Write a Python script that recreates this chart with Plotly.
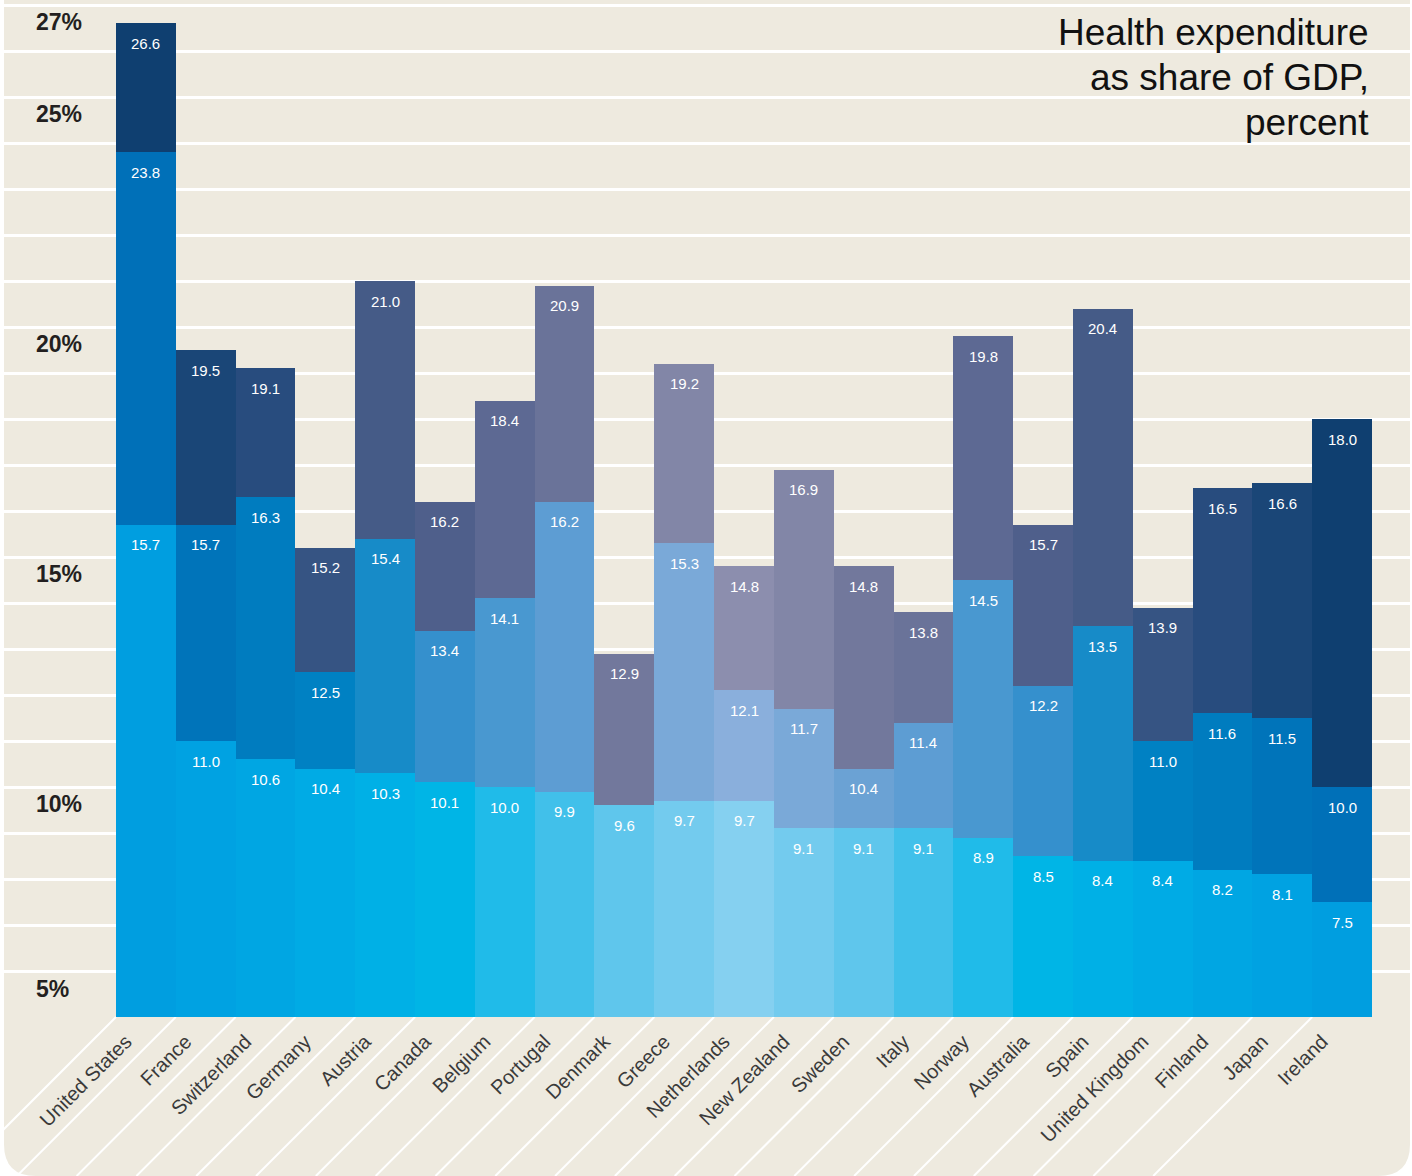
import plotly.graph_objects as go

# ---------------- data ----------------
countries = ["United States", "France", "Switzerland", "Germany", "Austria", "Canada",
             "Belgium", "Portugal", "Denmark", "Greece", "Netherlands", "New Zealand",
             "Sweden", "Italy", "Norway", "Australia", "Spain", "United Kingdom",
             "Finland", "Japan", "Ireland"]
low_values = [15.7, 11.0, 10.6, 10.4, 10.3, 10.1, 10.0, 9.9, 9.6, 9.7, 9.7,
              9.1, 9.1, 9.1, 8.9, 8.5, 8.4, 8.4, 8.2, 8.1, 7.5]
mid_values = [23.8, 15.7, 16.3, 12.5, 15.4, 13.4, 14.1, 16.2, None, 15.3, 12.1,
              11.7, 10.4, 11.4, 14.5, 12.2, 13.5, 11.0, 11.6, 11.5, 10.0]
high_values = [26.6, 19.5, 19.1, 15.2, 21.0, 16.2, 18.4, 20.9, 12.9, 19.2, 14.8,
               16.9, 14.8, 13.8, 19.8, 15.7, 20.4, 13.9, 16.5, 16.6, 18.0]
y_tick_values = [27, 25, 20, 15, 10, 5]
y_tick_labels = ["27%", "25%", "20%", "15%", "10%", "5%"]
title_lines = ["Health expenditure", "as share of GDP,", "percent"]

# ---------------- style ----------------
FONT = "Liberation Sans, Arial, Helvetica, sans-serif"
BEIGE = "#EEEADF"
# palettes indexed by distance from the centre bar (Netherlands)
low_pal = ["#85D0F0", "#73CBEE", "#5FC6EC", "#41C0EA", "#20BBE9", "#00B5E6",
           "#00B0E6", "#00ABE5", "#00A6E3", "#00A2E2", "#009EE0"]
mid_pal = ["#8AAFDC", "#7AA9D8", "#6BA2D4", "#5D9DD3", "#4998D0", "#3590CD",
           "#178BC8", "#0081C3", "#007CBF", "#0074BA", "#0070B8"]
high_pal = ["#8C8EAE", "#8286A7", "#72789C", "#6A7399", "#5D6993", "#4F5F8B",
            "#455B87", "#365483", "#284C7E", "#1A4677", "#0F3F70"]

n = len(countries)
centre = n // 2
xs = list(range(n))
low_colors = [low_pal[abs(i - centre)] for i in xs]
mid_colors = [mid_pal[abs(i - centre)] for i in xs]
high_colors = [high_pal[abs(i - centre)] for i in xs]

W, H = 1412, 1176
ML, MR, MT, MB = 4, 2, 0, 159
plot_w = W - ML - MR
plot_h = H - MT - MB
px_per_pct = 46.0
y_min = 5
y_max = y_min + plot_h / px_per_pct
bar_left_px, bar_right_px = 116, 1372
px_per_cat = (bar_right_px - bar_left_px) / n
x_min = -0.5 - (bar_left_px - ML) / px_per_cat
x_max = x_min + plot_w / px_per_cat

fig = go.Figure()
for vals, cols in ((high_values, high_colors), (mid_values, mid_colors), (low_values, low_colors)):
    fig.add_trace(go.Bar(x=xs, y=vals, width=1.0, marker=dict(color=cols, line=dict(width=0)),
                         hoverinfo="skip", showlegend=False))

annotations = []
# value labels
for vals in (high_values, mid_values, low_values):
    for i, v in enumerate(vals):
        if v is None:
            continue
        annotations.append(dict(x=i, y=v, xref="x", yref="y", text=f"{v:.1f}",
                                showarrow=False, yanchor="middle", yshift=-20,
                                font=dict(family=FONT, size=15, color="white")))
# y labels (hang below their gridline; the bottom one sits above the base)
for v, t in zip(y_tick_values, y_tick_labels):
    shift = -17 if v != y_min else 28
    annotations.append(dict(x=(34 - ML) / plot_w, y=v, xref="paper", yref="y", text=t,
                            showarrow=False, xanchor="left", yanchor="middle", yshift=shift,
                            font=dict(family=FONT, size=23, color="#231F20", weight="bold")))
# title (right aligned, three lines)
for k, line in enumerate(title_lines):
    annotations.append(dict(x=(1371 - ML) / plot_w, y=1, xref="paper", yref="paper",
                            text=line, showarrow=False, xanchor="right", yanchor="middle",
                            yshift=-(32 + 45 * k),
                            font=dict(family=FONT, size=37, color="#111111")))

shapes = []
# beige panel with rounded bottom corners
yb = -MB / plot_h
rx = 32 / plot_w
ry = 32 / plot_h
path = (f"M 0,1 L 1,1 L 1,{yb + ry} Q 1,{yb} {1 - rx},{yb} "
        f"L {rx},{yb} Q 0,{yb} 0,{yb + ry} Z")
shapes.append(dict(type="path", path=path, xref="paper", yref="paper", layer="below",
                   fillcolor=BEIGE, line=dict(width=0)))
# diagonal separators below the bars
dx = -MB / plot_w
for i in xs:
    x0 = (i - 0.5 - x_min) / (x_max - x_min)
    shapes.append(dict(type="line", xref="paper", yref="paper", x0=x0, y0=0,
                       x1=x0 + dx, y1=yb, line=dict(color="white", width=2), layer="below"))

fig.update_layout(
    width=W, height=H,
    margin=dict(l=ML, r=MR, t=MT, b=MB),
    paper_bgcolor="white", plot_bgcolor="rgba(0,0,0,0)",
    barmode="overlay", bargap=0,
    font=dict(family=FONT),
    xaxis=dict(range=[x_min, x_max], tickmode="array", tickvals=xs, ticktext=countries,
               tickangle=-45, ticks="", showgrid=False, zeroline=False, showline=False,
               ticklabelshift=-20, ticklabelstandoff=8,
               tickfont=dict(family=FONT, size=20, color="#3A3A3A")),
    yaxis=dict(range=[y_min, y_max], tickmode="array", tickvals=list(range(6, 28)),
               showticklabels=False, ticks="", showgrid=True, gridcolor="white",
               gridwidth=2.5, zeroline=False, showline=False),
    annotations=annotations,
    shapes=shapes,
)

fig.write_html("out.html")
